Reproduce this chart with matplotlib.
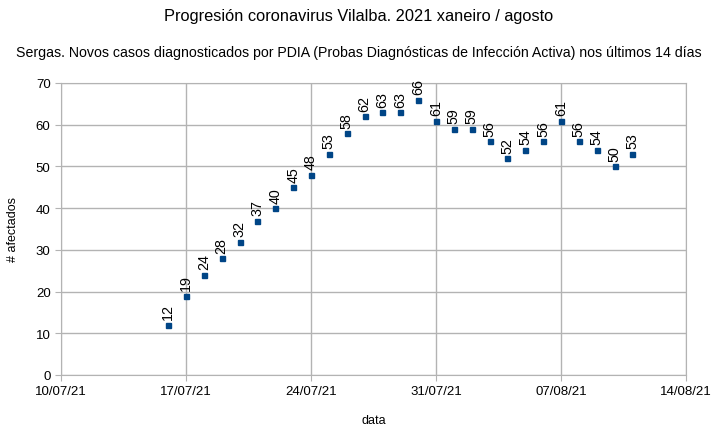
import datetime as dt

import matplotlib
matplotlib.use("Agg")
import matplotlib.pyplot as plt
import matplotlib.dates as mdates

plt.rcParams["font.family"] = ["Liberation Sans", "DejaVu Sans"]

START = dt.date(2021, 7, 16)
CASES = [12, 19, 24, 28, 32, 37, 40, 45, 48, 53, 58, 62, 63, 63, 66,
         61, 59, 59, 56, 52, 54, 56, 61, 56, 54, 50, 53]
DATES = [START + dt.timedelta(days=i) for i in range(len(CASES))]

TITLE = "Progresión coronavirus Vilalba. 2021 xaneiro / agosto"
SUBTITLE = ("Sergas. Novos casos diagnosticados por PDIA (Probas Diagnósticas "
            "de Infección Activa) nos últimos 14 días")

GRID = "#b3b3b3"
BLUE = "#004586"

fig = plt.figure(figsize=(7.18, 4.27), dpi=100)
ax = fig.add_axes([61 / 718, 1 - 376 / 427, 625 / 718, 292 / 427])

ax.plot(DATES, CASES, ls="none", marker="s", ms=3.6, color=BLUE)
for d, v in zip(DATES, CASES):
    ax.annotate(str(v), (d, v), xytext=(0, 4), textcoords="offset points",
                rotation=90, ha="center", va="bottom", fontsize=10.3)

ax.set_xlim(dt.date(2021, 7, 10), dt.date(2021, 8, 14))
ax.set_ylim(0, 70)
ax.set_yticks(range(0, 71, 10))
ax.set_xticks([dt.date(2021, 7, 10) + dt.timedelta(days=7 * k) for k in range(6)])
ax.xaxis.set_major_formatter(mdates.DateFormatter("%d/%m/%y"))

ax.grid(True, color=GRID, lw=1)
ax.set_axisbelow(True)
for s in ax.spines.values():
    s.set_color(GRID)
ax.tick_params(colors=GRID, labelcolor="black", labelsize=9.5, length=4)

ax.set_xlabel("data", fontsize=9, labelpad=12)
ax.set_ylabel("# afectados", fontsize=9, labelpad=12)

fig.text(0.5, 1 - 17 / 427, TITLE, ha="center", va="center", fontsize=11.8)
fig.text(0.5, 1 - 53 / 427, SUBTITLE, ha="center", va="center", fontsize=10.2)

fig.savefig("out.png", dpi=100)
